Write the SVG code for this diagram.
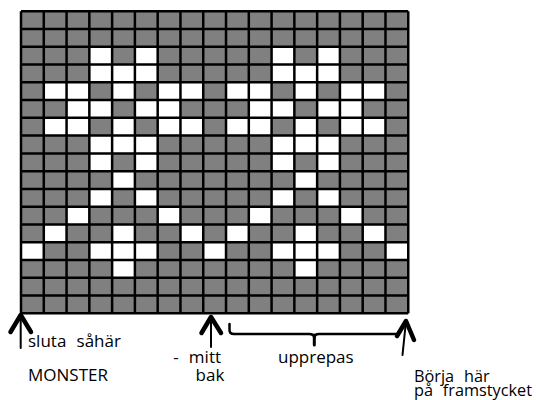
<svg xmlns="http://www.w3.org/2000/svg" width="536" height="400" viewBox="0 0 536 400">
<style>
.t{font-family:"Open Sans","Noto Sans",sans-serif;font-size:17px;fill:#000}
.s{font-size:16.3px}
.w{fill:#fff}
.ln{fill:none;stroke:#000;stroke-width:2.5;vector-effect:non-scaling-stroke}
.sh{fill:none;stroke:#000;stroke-width:2;stroke-linecap:round}
.hd{fill:none;stroke:#000;stroke-width:4.5;stroke-linecap:round;stroke-linejoin:round}
.br{fill:none;stroke:#000;stroke-width:2.5;stroke-linecap:round;stroke-linejoin:round}
</style>
<rect width="536" height="400" fill="#fff"/>
<g id="grid" transform="translate(21,11.3) scale(22.78,17.76)">
<rect x="0" y="0" width="17" height="17" fill="#808080"/>
<g class="w">
<rect x="3" y="2" width="1" height="1"/><rect x="5" y="2" width="1" height="1"/><rect x="11" y="2" width="1" height="1"/><rect x="13" y="2" width="1" height="1"/>
<rect x="3" y="3" width="3" height="1"/><rect x="11" y="3" width="3" height="1"/>
<rect x="1" y="4" width="2" height="1"/><rect x="4" y="4" width="1" height="1"/><rect x="6" y="4" width="2" height="1"/><rect x="9" y="4" width="2" height="1"/><rect x="12" y="4" width="1" height="1"/><rect x="14" y="4" width="2" height="1"/>
<rect x="2" y="5" width="2" height="1"/><rect x="5" y="5" width="2" height="1"/><rect x="10" y="5" width="2" height="1"/><rect x="13" y="5" width="2" height="1"/>
<rect x="1" y="6" width="2" height="1"/><rect x="4" y="6" width="1" height="1"/><rect x="6" y="6" width="2" height="1"/><rect x="9" y="6" width="2" height="1"/><rect x="12" y="6" width="1" height="1"/><rect x="14" y="6" width="2" height="1"/>
<rect x="3" y="7" width="3" height="1"/><rect x="11" y="7" width="3" height="1"/>
<rect x="3" y="8" width="1" height="1"/><rect x="5" y="8" width="1" height="1"/><rect x="11" y="8" width="1" height="1"/><rect x="13" y="8" width="1" height="1"/>
<rect x="4" y="9" width="1" height="1"/><rect x="12" y="9" width="1" height="1"/>
<rect x="3" y="10" width="1" height="1"/><rect x="5" y="10" width="1" height="1"/><rect x="11" y="10" width="1" height="1"/><rect x="13" y="10" width="1" height="1"/>
<rect x="2" y="11" width="1" height="1"/><rect x="6" y="11" width="1" height="1"/><rect x="10" y="11" width="1" height="1"/><rect x="14" y="11" width="1" height="1"/>
<rect x="1" y="12" width="1" height="1"/><rect x="4" y="12" width="1" height="1"/><rect x="7" y="12" width="1" height="1"/><rect x="9" y="12" width="1" height="1"/><rect x="12" y="12" width="1" height="1"/><rect x="15" y="12" width="1" height="1"/>
<rect x="0" y="13" width="1" height="1"/><rect x="3" y="13" width="3" height="1"/><rect x="8" y="13" width="1" height="1"/><rect x="11" y="13" width="3" height="1"/><rect x="16" y="13" width="1" height="1"/>
<rect x="4" y="14" width="1" height="1"/><rect x="12" y="14" width="1" height="1"/>
</g>
<path class="ln" d="M0 0H17M0 1H17M0 2H17M0 3H17M0 4H17M0 5H17M0 6H17M0 7H17M0 8H17M0 9H17M0 10H17M0 11H17M0 12H17M0 13H17M0 14H17M0 15H17M0 16H17M0 17H17M0 0V17M1 0V17M2 0V17M3 0V17M4 0V17M5 0V17M6 0V17M7 0V17M8 0V17M9 0V17M10 0V17M11 0V17M12 0V17M13 0V17M14 0V17M15 0V17M16 0V17M17 0V17"/>
</g>
<g id="connectors">
<line class="sh" x1="20.7" y1="315" x2="20.7" y2="348"/>
<polyline class="hd" points="10.5,332 20.7,315 31,332"/>
<line class="sh" x1="211" y1="317" x2="211" y2="347"/>
<polyline class="hd" points="201.5,333 211,317 221,333"/>
<line class="sh" x1="406" y1="321" x2="402.5" y2="355"/>
<polyline class="hd" points="397,336 406,321 414,340"/>
<path class="br" d="M229.5 324V330Q229.5 334 234 334H309Q314.3 334 314.3 338M314.3 338Q314.3 334 319 334H397"/>
<line x1="314.3" y1="335" x2="314.3" y2="345" stroke="#000" stroke-width="3" stroke-linecap="round"/>
</g>
<g id="labels">
<text class="t" x="28" y="347">sluta&#xF020;såhär</text>
<text class="t" x="28" y="381">MONSTER&#xF020;</text>
<text class="t" x="163" y="363">&#xF020;-&#xF020;mitt</text>
<text class="t" x="165" y="381">&#xF020;&#xF020;&#xF020;bak</text>
<text class="t" x="278" y="363">upprepas</text>
<text class="t s" x="414" y="382">Börja&#xF020;här</text>
<text class="t s" x="414" y="396">på&#xF020;framstycket</text>
</g>
</svg>
